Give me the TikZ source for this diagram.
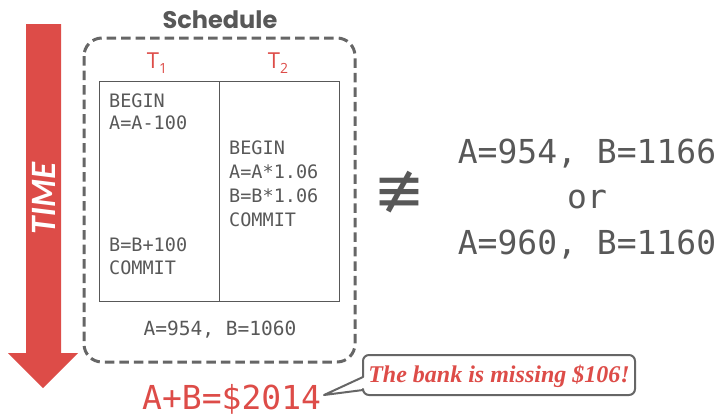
\documentclass[tikz,border=0pt]{standalone}
\usepackage{fontspec}
\setmainfont{DejaVu Sans}
\newfontfamily\monof{DejaVu Sans Mono}
\newfontfamily\popf{Poppins}
\newfontfamily\latof{Lato}
\newfontfamily\opensf{Open Sans}
\newfontfamily\serf{Liberation Serif}
\newfontfamily\symf{DejaVu Sans}
\definecolor{myred}{RGB}{221,76,72}
\definecolor{linegray}{RGB}{102,102,102}
\definecolor{txtgray}{RGB}{88,88,88}
\tikzset{
  dashbox/.style={draw=linegray, line width=3pt, dash pattern=on 9.5pt off 5pt, rounded corners=18pt},
  colbox/.style={draw=txtgray, line width=1.1pt, minimum width=120pt, minimum height=220pt, inner sep=0pt, anchor=north west},
  code/.style={font=\monof\fontsize{18.5}{18.5}\selectfont, text=txtgray, anchor=base west, inner sep=0pt},
  bigcode/.style={font=\monof\fontsize{33}{33}\selectfont, text=txtgray, anchor=base, inner sep=0pt},
  tlabel/.style={font=\opensf\fontsize{22}{22}\selectfont, text=myred, anchor=base, inner sep=0pt},
}
\newcommand{\subsc}[1]{\raisebox{-5pt}{\fontsize{14}{14}\selectfont #1}}
\begin{document}
\begin{tikzpicture}[x=1pt,y=-1pt]
\useasboundingbox (0,0) rectangle (720,416);
% time arrow
\fill[myred] (26,24) -- (61,24) -- (61,353) -- (78,353) -- (43,388) -- (8,353) -- (26,353) -- cycle;
\node[font=\latof\bfseries\itshape\fontsize{32}{32}\selectfont, text=white, rotate=90, inner sep=0pt] (time) at (44,198) {TIME};
% schedule
\node[font=\popf\bfseries\fontsize{24}{24}\selectfont, text=txtgray, anchor=base, inner sep=0pt] (title) at (220,28) {Schedule};
\draw[dashbox] (84,38) rectangle (355,362);
\node[tlabel] (t1) at (157,68) {T\subsc{1}};
\node[tlabel] (t2) at (278,68) {T\subsc{2}};
\node[colbox] (c1) at (99,81) {};
\node[colbox] (c2) at (219,81) {};
\node[code] (a1) at (109,107) {BEGIN};
\node[code] (a2) at (109,129) {A=A-100};
\node[code] (a3) at (109,251) {B=B+100};
\node[code] (a4) at (109,274) {COMMIT};
\node[code] (b1) at (229,154) {BEGIN};
\node[code] (b2) at (229,178) {A=A*1.06};
\node[code] (b3) at (229,202) {B=B*1.06};
\node[code] (b4) at (229,226) {COMMIT};
\node[code, anchor=base, font=\monof\fontsize{19.5}{19.5}\selectfont] (res) at (220,335) {A=954, B=1060};
% not equivalent
\node[font=\symf\fontsize{62}{62}\selectfont, text=txtgray, inner sep=0pt] (neq) at (399,192) {≢};
\node[bigcode] (r1) at (587,163) {A=954, B=1166};
\node[bigcode] (r2) at (587,208) {or};
\node[bigcode] (r3) at (587,254) {A=960, B=1160};
% total
\node[bigcode, anchor=base west, text=myred] (total) at (142,409) {A+B=\$2014};
% callout
\draw[draw=linegray, fill=white, line width=2pt, line join=round] (324,395) -- (363,377) [rounded corners=6pt] -- (363,355) -- (635,355) -- (635,395) -- (363,395) [sharp corners] -- (363,390) -- cycle;
\node[font=\serf\bfseries\itshape\fontsize{24}{24}\selectfont, text=myred, inner sep=0pt] (msg) at (499,376) {The bank is missing \$106!};
\end{tikzpicture}
\end{document}
